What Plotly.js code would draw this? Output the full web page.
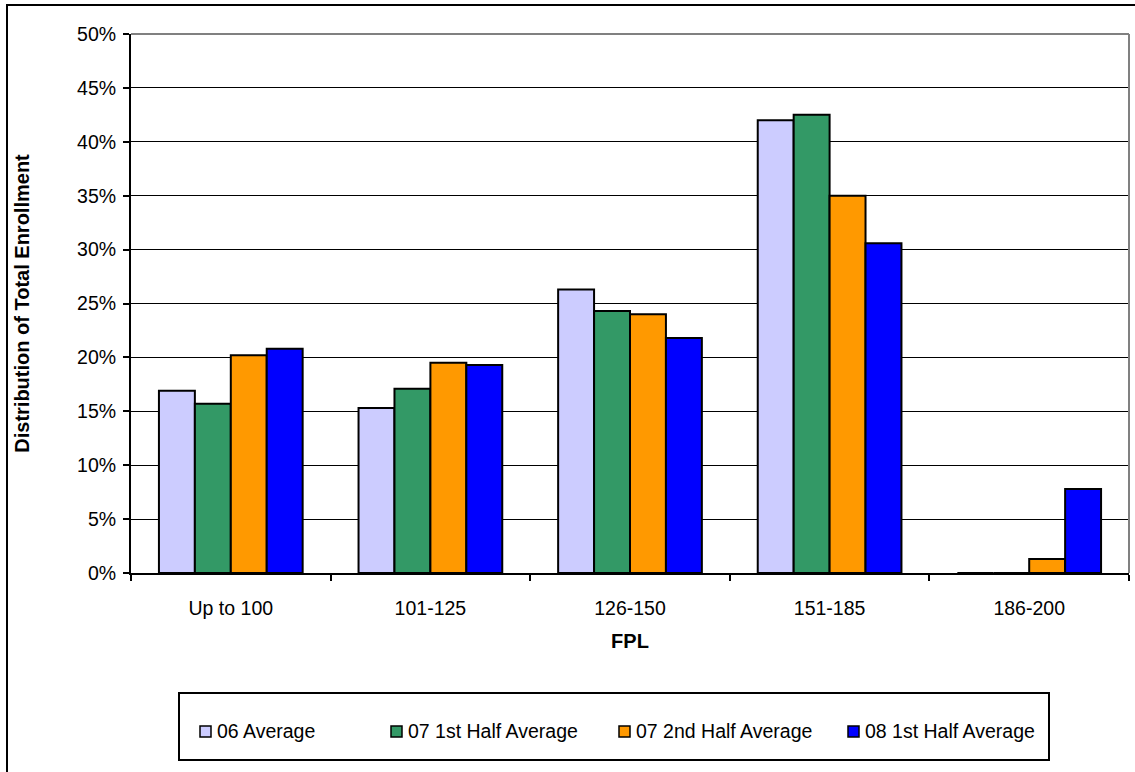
<!DOCTYPE html>
<html>
<head>
<meta charset="utf-8">
<script src="https://cdn.plot.ly/plotly-3.0.1.min.js"></script>
<style>
  html, body { margin: 0; padding: 0; background: #fff; }
  #chart { width: 1135px; height: 772px; }
</style>
</head>
<body>
<div id="chart"></div>
<script>
// FPL bands and enrollment share (%) per reporting period
const categories = ["Up to 100", "101-125", "126-150", "151-185", "186-200"];
const seriesNames = ["06 Average", "07 1st Half Average", "07 2nd Half Average", "08 1st Half Average"];
const avg06 = [16.9, 15.3, 26.3, 42.0, 0];
const firstHalf07 = [15.7, 17.1, 24.3, 42.5, 0];
const secondHalf07 = [20.2, 19.5, 24.0, 35.0, 1.3];
const firstHalf08 = [20.8, 19.3, 21.8, 30.6, 7.8];
const seriesColors = ["#CCCCFF", "#339966", "#FF9900", "#0000FF"];

const FONT = "Arial, 'Liberation Sans', sans-serif";
const TICK_SIZE = 19.5;
const TEXT_SIZE = 20;
const LEGEND_SIZE = 19.5;
const M = { l: 131, r: 6, t: 34, b: 199 };
const W = 1135, H = 772;
const PW = W - M.l - M.r, PH = H - M.t - M.b;
// pixel -> paper helpers for the decorations around the plot
const px = x => (x - M.l) / PW;
const py = y => (H - M.b - y) / PH;

const values = [avg06, firstHalf07, secondHalf07, firstHalf08];
const traces = values.map((v, i) => ({
  type: "bar",
  name: seriesNames[i],
  x: categories,
  y: v,
  marker: { color: seriesColors[i], line: { color: "#000", width: 2 } },
  showlegend: false,
  hoverinfo: "x+y+name"
}));

const shapes = [
  // outer chart frame (top and left edges visible)
  { type: "line", xref: "paper", yref: "paper", x0: px(6), x1: px(1140), y0: py(5), y1: py(5), line: { color: "#000", width: 2 } },
  { type: "line", xref: "paper", yref: "paper", x0: px(7), x1: px(7), y0: py(4), y1: py(780), line: { color: "#000", width: 2 } },
  // plot area frame, grey top and right
  { type: "line", xref: "paper", yref: "paper", x0: 0, x1: 1, y0: 1, y1: 1, line: { color: "#808080", width: 2 } },
  { type: "line", xref: "paper", yref: "paper", x0: 1, x1: 1, y0: 0, y1: 1, line: { color: "#808080", width: 2 } },
  // legend box
  { type: "rect", xref: "paper", yref: "paper", x0: px(179), x1: px(1049), y0: py(760), y1: py(693), line: { color: "#000", width: 2 }, fillcolor: "rgba(0,0,0,0)" }
];

const annotations = [];
const keyLeft = [200, 391, 619, 848];
const legendY = 731;
seriesNames.forEach((name, i) => {
  shapes.push({
    type: "rect", xref: "paper", yref: "paper",
    x0: px(keyLeft[i]), x1: px(keyLeft[i] + 11),
    y0: py(legendY + 6), y1: py(legendY - 5),
    line: { color: "#000", width: 1.5 }, fillcolor: seriesColors[i]
  });
  annotations.push({
    xref: "paper", yref: "paper", x: px(keyLeft[i] + 15), y: py(legendY),
    xanchor: "left", yanchor: "middle", showarrow: false,
    text: name, font: { family: FONT, size: LEGEND_SIZE, color: "#000" }
  });
});

const layout = {
  width: W, height: H,
  margin: M,
  paper_bgcolor: "#fff", plot_bgcolor: "#fff",
  font: { family: FONT, size: TICK_SIZE, color: "#000" },
  barmode: "group",
  bargap: 0.28,
  bargroupgap: 0,
  showlegend: false,
  xaxis: {
    type: "category",
    title: { text: "<b>FPL</b>", font: { family: FONT, size: TEXT_SIZE, color: "#000" }, standoff: 16 },
    tickson: "boundaries",
    ticks: "outside", ticklen: 6, tickwidth: 2, tickcolor: "#000",
    ticklabelstandoff: 17,
    showline: true, linecolor: "#000", linewidth: 2,
    showgrid: false, zeroline: false,
    tickfont: { family: FONT, size: TICK_SIZE, color: "#000" }
  },
  yaxis: {
    range: [0, 50], dtick: 5, tick0: 0,
    ticksuffix: "%",
    title: { text: "<b>Distribution of Total Enrollment</b>", font: { family: FONT, size: TEXT_SIZE, color: "#000" }, standoff: 42 },
    ticks: "outside", ticklen: 6, tickwidth: 2, tickcolor: "#000",
    ticklabelstandoff: 3,
    showline: true, linecolor: "#000", linewidth: 2,
    showgrid: true, gridcolor: "#000", gridwidth: 1,
    zeroline: false,
    tickfont: { family: FONT, size: TICK_SIZE, color: "#000" }
  },
  shapes: shapes,
  annotations: annotations
};

Plotly.newPlot("chart", traces, layout, { displayModeBar: false, staticPlot: true });
</script>
</body>
</html>
